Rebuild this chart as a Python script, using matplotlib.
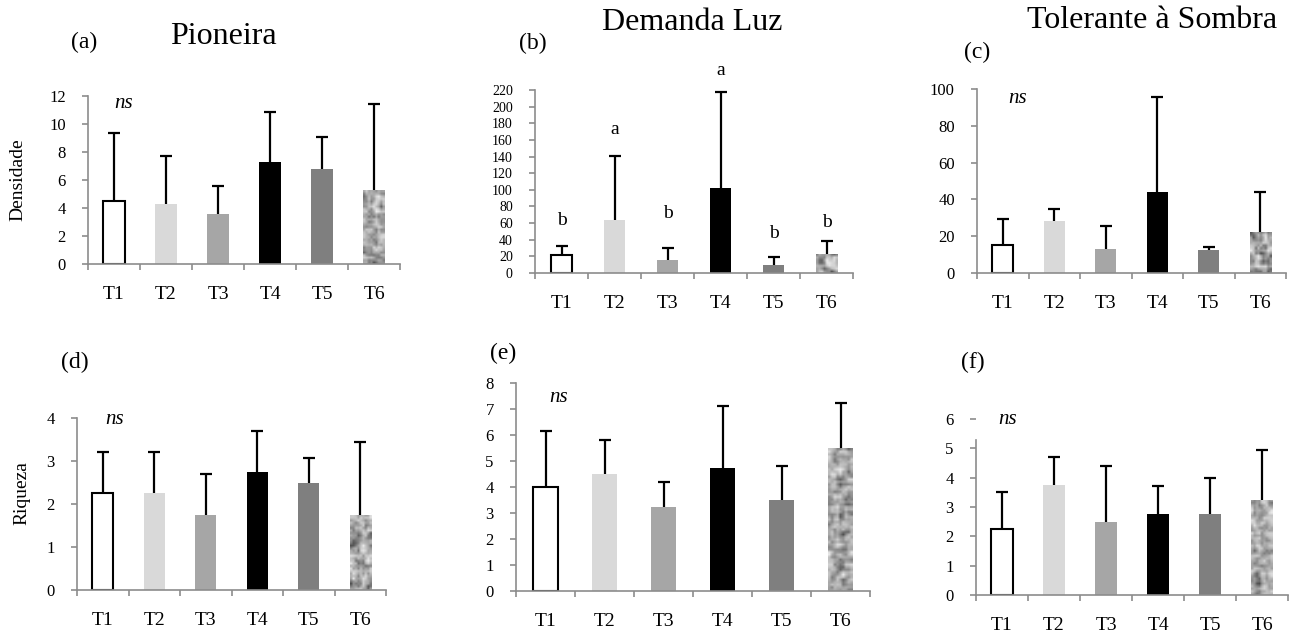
import numpy as np
import matplotlib
matplotlib.use('Agg')
import matplotlib.pyplot as plt

plt.rcParams['font.family'] = ['Liberation Serif', 'DejaVu Serif']

treatments = ['T1', 'T2', 'T3', 'T4', 'T5', 'T6']

# means and upper error (mean + sd)
dens_pio = [4.5, 4.25, 3.55, 7.25, 6.75, 5.25]
dens_pio_top = [9.35, 7.7, 5.6, 10.85, 9.1, 11.45]
dens_luz = [22, 64, 16, 102, 10, 23]
dens_luz_top = [33, 141, 30, 217, 19, 38]
dens_luz_letters = ['b', 'a', 'b', 'a', 'b', 'b']
dens_luz_letter_y = [63, 172, 71, 244, 47, 61]
dens_tol = [15, 28, 13, 44, 12.5, 22.5]
dens_tol_top = [29.5, 35, 25.5, 95.5, 14, 44]
riq_pio = [2.25, 2.25, 1.75, 2.75, 2.5, 1.75]
riq_pio_top = [3.2, 3.2, 2.7, 3.7, 3.08, 3.45]
riq_luz = [4.0, 4.5, 3.25, 4.75, 3.5, 5.5]
riq_luz_top = [6.15, 5.8, 4.2, 7.1, 4.8, 7.25]
riq_tol = [2.25, 3.75, 2.5, 2.75, 2.75, 3.25]
riq_tol_top = [3.5, 4.7, 4.4, 3.7, 4.0, 4.95]

face = ['white', '#d9d9d9', '#a6a6a6', 'black', '#7f7f7f', None]
spine_c = '#8c8c8c'

W, H = 1290, 638
fig = plt.figure(figsize=(12.9, 6.38), dpi=100)


def rect(x0, y0, x1, y1):
    return [x0 / W, 1 - y1 / H, (x1 - x0) / W, (y1 - y0) / H]


def granite(rows, cols, seed):
    # mottled grey fill for the T6 bars
    rng = np.random.default_rng(seed)
    a = rng.random((rows, cols))
    a = (2 * a + np.roll(a, 1, 0) + np.roll(a, -1, 0) + np.roll(a, 1, 1) + np.roll(a, -1, 1)) / 6
    a = (a - a.min()) / (a.max() - a.min())
    return 0.3 + 0.62 * a ** 0.8


def panel(box, means, tops, ymax, yticks, ytick_fs, seed):
    ax = fig.add_axes(rect(*box))
    x = np.arange(1, 7)
    bars = ax.bar(x, means, width=0.41, color='white', edgecolor='none', zorder=2)
    for b, fc in zip(bars, face):
        if fc == 'white':
            b.set_edgecolor('black')
            b.set_linewidth(1.5)
        elif fc is not None:
            b.set_facecolor(fc)
    err = np.array(tops) - np.array(means)
    eb = ax.errorbar(x, means, yerr=[np.zeros(6), err], fmt='none', ecolor='black',
                     elinewidth=1.6, capsize=4, capthick=1.6, zorder=3)
    eb[1][0].set_visible(False)  # no cap at the bar top
    ax.set_xlim(0.5, 6.5)
    ax.set_ylim(0, ymax)
    # textured T6 bar
    tb = bars[5]
    hpx = means[5] / ymax * (box[3] - box[1])
    rows = max(int(hpx / 2.5), 4)
    im = ax.imshow(granite(rows, 9, seed), cmap='gray', vmin=0, vmax=1,
                   extent=(tb.get_x(), tb.get_x() + tb.get_width(), 0, means[5]),
                   aspect='auto', interpolation='bilinear', zorder=2)
    im.set_clip_path(tb)
    ax.set_xlim(0.5, 6.5)
    ax.set_ylim(0, ymax)

    for s in ['top', 'right']:
        ax.spines[s].set_visible(False)
    for s in ['left', 'bottom']:
        ax.spines[s].set_color(spine_c)
        ax.spines[s].set_linewidth(1.2)
    ax.set_yticks(yticks)
    ax.tick_params(axis='y', direction='out', length=4, width=1.2, color=spine_c,
                   labelsize=ytick_fs, pad=12)
    ax.set_xticks(x)
    ax.set_xticklabels(treatments)
    ax.set_xticks(np.arange(0.5, 7, 1), minor=True)
    ax.tick_params(axis='x', which='major', length=0, labelsize=14, pad=16)
    ax.tick_params(axis='x', which='minor', direction='out', length=4, width=1.2, color=spine_c)
    ax.set_facecolor('none')
    return ax


axa = panel((88, 96, 400, 264), dens_pio, dens_pio_top, 12, range(0, 13, 2), 12, 1)
axb = panel((535, 90, 853, 273), dens_luz, dens_luz_top, 220, range(0, 221, 20), 10, 2)
axc = panel((977, 89, 1286, 273), dens_tol, dens_tol_top, 100, range(0, 101, 20), 12, 3)
axd = panel((77, 418, 386, 590), riq_pio, riq_pio_top, 4, range(0, 5), 12, 4)
axe = panel((516, 383, 870, 591), riq_luz, riq_luz_top, 8, range(0, 9), 12, 5)
axf = panel((976, 419, 1288, 595), riq_tol, riq_tol_top, 6, range(0, 7), 12, 6)
axf.spines['left'].set_bounds(0, 5.3)

for i, (lt, ly) in enumerate(zip(dens_luz_letters, dens_luz_letter_y)):
    axb.text(i + 1, ly, lt, ha='center', va='center', fontsize=14)

for ax, (px, py) in [(axa, (0.115, 0.955)), (axc, (0.13, 0.95)), (axd, (0.123, 0.99)),
                     (axe, (0.12, 0.93)), (axf, (0.10, 1.0))]:
    ax.text(px, py, 'ns', transform=ax.transAxes, ha='center', va='center',
            fontsize=15, style='italic')


def ftext(x, y, s, fs, **kw):
    fig.text(x / W, 1 - y / H, s, fontsize=fs, ha='center', va='center', **kw)


ftext(84, 42, '(a)', 17)
ftext(223, 37, 'Pioneira', 23)
ftext(533, 43, '(b)', 17)
ftext(692, 22, 'Demanda Luz', 23)
ftext(977, 52, '(c)', 17)
ftext(1152, 20, 'Tolerante à Sombra', 23)
ftext(75, 362, '(d)', 17)
ftext(503, 353, '(e)', 17)
ftext(973, 362, '(f)', 17)
ftext(18, 180, 'Densidade', 14, rotation=90)
ftext(22, 493, 'Riqueza', 14, rotation=90)

fig.savefig('out.png', dpi=100)
